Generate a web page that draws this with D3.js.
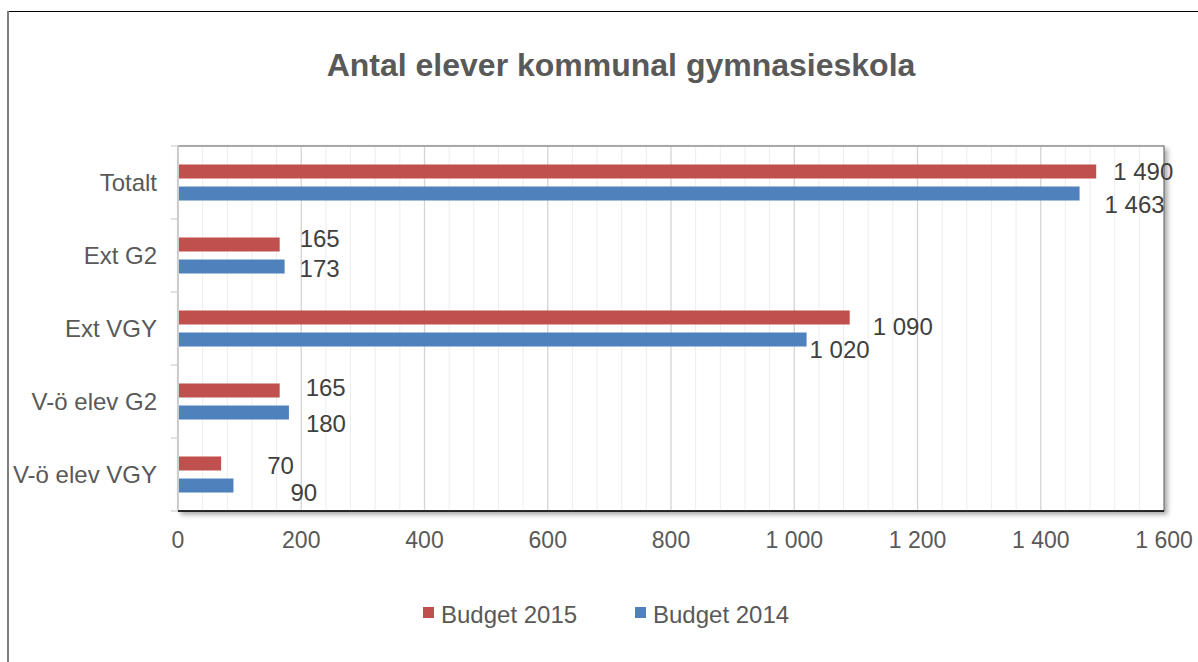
<!DOCTYPE html>
<html>
<head>
<meta charset="utf-8">
<script src="https://cdn.jsdelivr.net/npm/d3@7"></script>
<style>
  body { margin: 0; background: #fff; }
  svg { display: block; font-family: "Liberation Sans", Arial, sans-serif; }
</style>
</head>
<body>
<svg id="chart" width="1198" height="662"></svg>
<script>
// data
const categories = ["Totalt", "Ext G2", "Ext VGY", "V-ö elev G2", "V-ö elev VGY"];
const seriesNames = ["Budget 2015", "Budget 2014"];
const budget2015 = [1490, 165, 1090, 165, 70];
const budget2014 = [1463, 173, 1020, 180, 90];
const xTicks = [0, 200, 400, 600, 800, 1000, 1200, 1400, 1600];

// label nudges (px) relative to bar end / bar centre, as placed in the original
const labelShift2015 = [[17, 0], [20, -6], [23, 9], [26, -3], [46, 2]];
const labelShift2014 = [[25, 11], [15, 2], [3, 10], [17, 11], [57, 7]];

const colors = { "Budget 2015": "#C0504D", "Budget 2014": "#4F81BD" };

const svg = d3.select("#chart");
const plot = { left: 178, right: 1164, top: 146, bottom: 511 };

const fmt = d3.formatLocale({ decimal: ",", thousands: " ", grouping: [3], currency: ["", ""] }).format(",d");

const x = d3.scaleLinear().domain([0, 1600]).range([plot.left, plot.right]);
const y = d3.scaleBand().domain(categories).range([plot.top, plot.bottom]);
const ySeries = d3.scaleBand().domain(seriesNames).range([0, y.bandwidth()])
    .paddingInner(8 / 22).paddingOuter(0.84);

// outer frame bits
svg.append("line").attr("x1", 8).attr("x2", 1198).attr("y1", 11.5).attr("y2", 11.5)
    .attr("stroke", "#000").attr("stroke-width", 1);
svg.append("line").attr("x1", 8).attr("x2", 8).attr("y1", 11).attr("y2", 662)
    .attr("stroke", "#7f7f7f").attr("stroke-width", 2);

// title
svg.append("text")
    .attr("x", 621).attr("y", 76)
    .attr("text-anchor", "middle")
    .attr("font-size", 32).attr("font-weight", "bold")
    .attr("fill", "#595959")
    .text("Antal elever kommunal gymnasieskola");

// plot area with shadow
const defs = svg.append("defs");
const f = defs.append("filter").attr("id", "shadow")
    .attr("x", "-5%").attr("y", "-5%").attr("width", "110%").attr("height", "115%");
f.append("feDropShadow").attr("dx", 3).attr("dy", 3).attr("stdDeviation", 2.5)
    .attr("flood-color", "#000").attr("flood-opacity", 0.35);

svg.append("rect")
    .attr("x", plot.left).attr("y", plot.top)
    .attr("width", plot.right - plot.left).attr("height", plot.bottom - plot.top)
    .attr("fill", "#fff").attr("stroke", "#595959").attr("stroke-width", 1)
    .attr("filter", "url(#shadow)");

// gridlines: minor every 40, major every 200
const minor = d3.range(40, 1600, 40).filter(v => v % 200 !== 0);
svg.append("g").selectAll("line").data(minor).join("line")
    .attr("x1", d => x(d)).attr("x2", d => x(d))
    .attr("y1", plot.top + 1).attr("y2", plot.bottom)
    .attr("stroke", "#EDEDED").attr("stroke-width", 1);
svg.append("g").selectAll("line").data(xTicks.slice(1, -1)).join("line")
    .attr("x1", d => x(d)).attr("x2", d => x(d))
    .attr("y1", plot.top + 1).attr("y2", plot.bottom)
    .attr("stroke", "#D4D4D4").attr("stroke-width", 1.3);

// left category axis
svg.append("line").attr("x1", plot.left).attr("x2", plot.left)
    .attr("y1", plot.top).attr("y2", plot.bottom)
    .attr("stroke", "#D9D9D9").attr("stroke-width", 1.5);
const bounds = categories.map(c => y(c)).concat([plot.bottom]);
svg.append("g").selectAll("line").data(bounds).join("line")
    .attr("x1", plot.left - 7).attr("x2", plot.left)
    .attr("y1", d => d).attr("y2", d => d)
    .attr("stroke", "#D9D9D9").attr("stroke-width", 1.5);
svg.append("g").selectAll("text").data(categories).join("text")
    .attr("x", 157).attr("y", d => y(d) + y.bandwidth() / 2)
    .attr("dy", "0.35em")
    .attr("text-anchor", "end")
    .attr("font-size", 24).attr("fill", "#595959")
    .text(d => d);

// bars
const rows = [];
categories.forEach((c, i) => {
  rows.push({ cat: c, series: "Budget 2015", value: budget2015[i], shift: labelShift2015[i] });
  rows.push({ cat: c, series: "Budget 2014", value: budget2014[i], shift: labelShift2014[i] });
});

svg.append("g").selectAll("rect").data(rows).join("rect")
    .attr("x", x(0) + 1)
    .attr("y", d => y(d.cat) + ySeries(d.series))
    .attr("width", d => x(d.value) - x(0) - 1)
    .attr("height", ySeries.bandwidth())
    .attr("fill", d => colors[d.series]);

// data labels
svg.append("g").selectAll("text").data(rows).join("text")
    .attr("x", d => x(d.value) + d.shift[0])
    .attr("y", d => y(d.cat) + ySeries(d.series) + ySeries.bandwidth() / 2 + d.shift[1])
    .attr("dy", "0.35em")
    .attr("font-size", 24).attr("fill", "#404040")
    .text(d => fmt(d.value));

// bottom axis
svg.append("line").attr("x1", plot.left).attr("x2", plot.right)
    .attr("y1", plot.bottom).attr("y2", plot.bottom)
    .attr("stroke", "#000").attr("stroke-width", 1.5);
svg.append("g").selectAll("text").data(xTicks).join("text")
    .attr("x", d => x(d)).attr("y", 548)
    .attr("text-anchor", "middle")
    .attr("font-size", 23).attr("fill", "#595959")
    .text(d => fmt(d));

// legend
const legend = svg.append("g").selectAll("g").data(seriesNames).join("g")
    .attr("transform", (d, i) => `translate(${423 + i * 212}, 607)`);
legend.append("rect").attr("width", 11).attr("height", 11)
    .attr("fill", d => colors[d]);
legend.append("text").attr("x", 18).attr("y", 16)
    .attr("font-size", 24).attr("fill", "#595959")
    .text(d => d);
</script>
</body>
</html>
